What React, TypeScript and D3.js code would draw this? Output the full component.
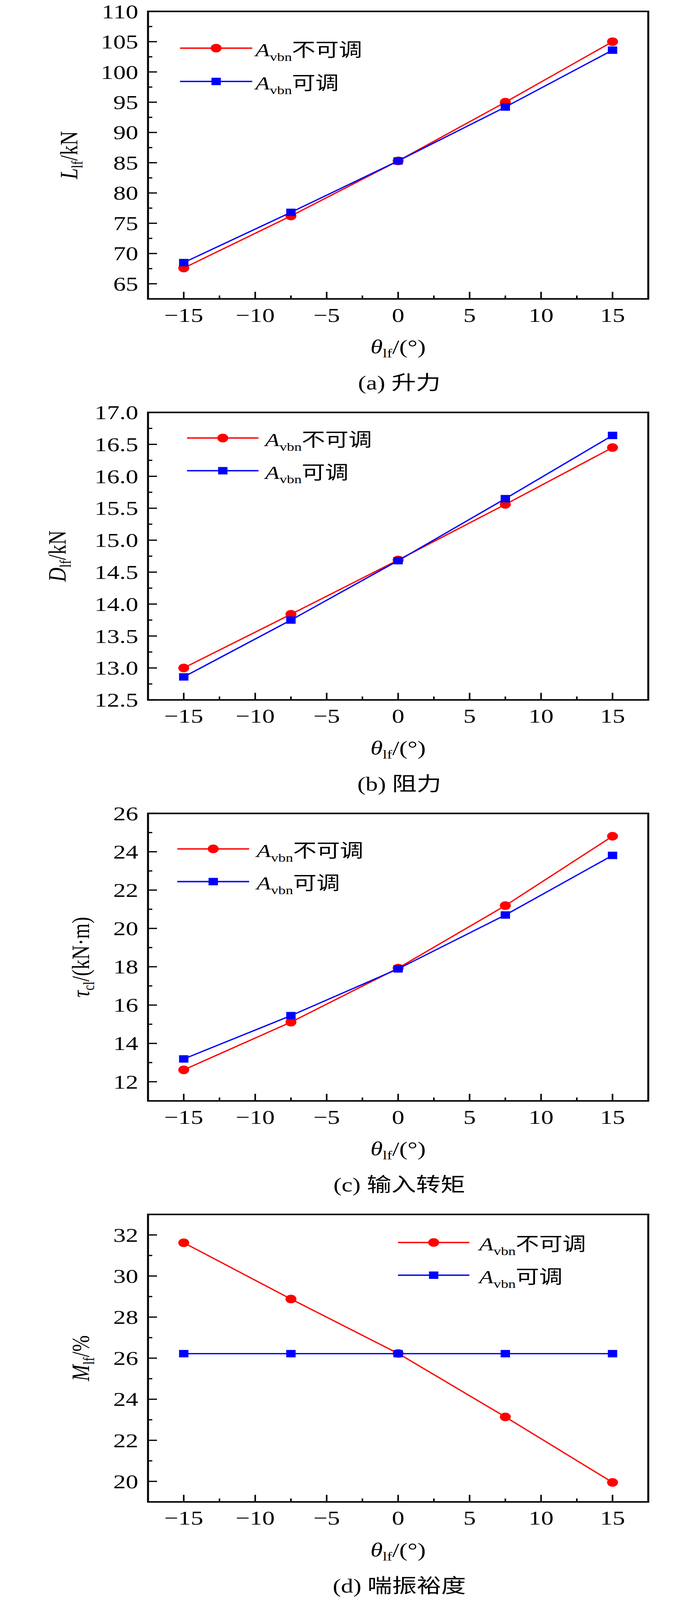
import { scaleLinear, line, range } from "d3";

// lift-fan pitch angle, shared by all four panels
const thetaLf = [-15, -7.5, 0, 7.5, 15];
const xTicks = [-15, -10, -5, 0, 5, 10, 15];

// (a) lift
const liftFixed = [67.6, 76.2, 85.3, 95.0, 105.0];
const liftAdjustable = [68.5, 76.8, 85.3, 94.2, 103.6];
const liftTicks = [65, 70, 75, 80, 85, 90, 95, 100, 105, 110];

// (b) drag
const dragFixed = [13.0, 13.84, 14.69, 15.56, 16.45];
const dragAdjustable = [12.86, 13.75, 14.68, 15.65, 16.64];
const dragTicks = [12.5, 13.0, 13.5, 14.0, 14.5, 15.0, 15.5, 16.0, 16.5, 17.0];

// (c) input torque
const torqueFixed = [12.62, 15.11, 17.93, 21.19, 24.81];
const torqueAdjustable = [13.19, 15.45, 17.89, 20.7, 23.81];
const torqueTicks = [12, 14, 16, 18, 20, 22, 24, 26];

// (d) surge margin
const marginFixed = [31.62, 28.88, 26.23, 23.14, 19.95];
const marginAdjustable = [26.22, 26.22, 26.22, 26.22, 26.22];
const marginTicks = [20, 22, 24, 26, 28, 30, 32];

const seriesNames = ["不可调", "可调"];
const captions = ["(a) 升力", "(b) 阻力", "(c) 输入转矩", "(d) 喘振裕度"];

// drawing coordinates follow the 1772x5187 reference; the browser viewport
// is only 4096 tall, so the svg is squeezed into it through the viewBox
const W = 1772;
const H = 5187;
const VIEW_H = 4096;
const panelH = 1300;
const left = 379;
const right = 1660;
const top = 37;
const bottom = 969;
const serif = "'Liberation Serif', 'Times New Roman', 'Noto Sans CJK SC', serif";
const RED = "#ff0000";
const BLUE = "#0000ff";

const panels = [
  {
    fixed: liftFixed, adj: liftAdjustable, ticks: liftTicks, domain: [62.5, 110], minor: 2.5, dec: 0,
    sym: "L", sub: "lf", unit: "/kN", labelX: 198,
    legend: { x1: 461, x2: 646, y: 156, gap: 108, tx: 654 },
  },
  {
    fixed: dragFixed, adj: dragAdjustable, ticks: dragTicks, domain: [12.5, 17.0], minor: 0.25, dec: 1,
    sym: "D", sub: "lf", unit: "/kN", labelX: 168,
    legend: { x1: 479, x2: 662, y: 120, gap: 106, tx: 679 },
  },
  {
    fixed: torqueFixed, adj: torqueAdjustable, ticks: torqueTicks, domain: [11, 26], minor: 1, dec: 0,
    sym: "τ", sub: "cl", unit: "/(kN·m)", labelX: 228,
    legend: { x1: 454, x2: 638, y: 152, gap: 106, tx: 657 },
  },
  {
    fixed: marginFixed, adj: marginAdjustable, ticks: marginTicks, domain: [19, 33], minor: 1, dec: 0,
    sym: "M", sub: "lf", unit: "/%", labelX: 228,
    legend: { x1: 1019, x2: 1202, y: 128, gap: 106, tx: 1227 },
  },
];

const x = scaleLinear().domain([-17.5, 17.5]).range([left, right]);
const xMinor = range(-17.5, 17.6, 2.5).filter((v) => v > -17.5 && v < 17.5);

function Legend({ lg }: { lg: any }) {
  const mid = (lg.x1 + lg.x2) / 2;
  return (
    <g>
      {[0, 1].map((i) => {
        const y = lg.y + i * lg.gap;
        const c = i === 0 ? RED : BLUE;
        return (
          <g key={i}>
            <line x1={lg.x1} x2={lg.x2} y1={y} y2={y} stroke={c} strokeWidth={4.5} />
            {i === 0 ? (
              <circle cx={mid} cy={y} r={14} fill={c} />
            ) : (
              <rect x={mid - 12} y={y - 12} width={24} height={24} fill={c} />
            )}
            <text x={lg.tx} y={y + 26} fontFamily={serif} fontSize={60}>
              <tspan fontStyle="italic">A</tspan>
              <tspan fontSize={38} dy={15}>vbn</tspan>
              <tspan dy={-15} fontFamily="'Noto Sans CJK SC'" fontSize={60}>{seriesNames[i]}</tspan>
            </text>
          </g>
        );
      })}
    </g>
  );
}

function Panel({ p, idx }: { p: any; idx: number }) {
  const y = scaleLinear().domain(p.domain).range([bottom, top]);
  const yMinor = range(p.domain[0], p.domain[1] + 1e-9, p.minor).filter(
    (v: number) => !p.ticks.some((t: number) => Math.abs(t - v) < 1e-9) && v > p.domain[0] && v < p.domain[1]
  );
  const path = line<number>()
    .x((_, i) => x(thetaLf[i]))
    .y((d) => y(d));
  const cy = (top + bottom) / 2;
  return (
    <g transform={`translate(0,${idx * panelH})`}>
      {/* ticks, pointing inward */}
      {xTicks.map((t) => (
        <line key={"xt" + t} x1={x(t)} x2={x(t)} y1={bottom} y2={bottom - 23} stroke="#000" strokeWidth={4} />
      ))}
      {xMinor.filter((v) => !xTicks.includes(v)).map((t) => (
        <line key={"xm" + t} x1={x(t)} x2={x(t)} y1={bottom} y2={bottom - 11} stroke="#000" strokeWidth={4} />
      ))}
      {p.ticks.map((t: number) => (
        <line key={"yt" + t} x1={left} x2={left + 23} y1={y(t)} y2={y(t)} stroke="#000" strokeWidth={4} />
      ))}
      {yMinor.map((t: number) => (
        <line key={"ym" + t} x1={left} x2={left + 11} y1={y(t)} y2={y(t)} stroke="#000" strokeWidth={4} />
      ))}
      <rect x={left} y={top} width={right - left} height={bottom - top} fill="none" stroke="#000" strokeWidth={5} />

      {/* tick labels */}
      {xTicks.map((t) => (
        <text key={"xl" + t} x={x(t)} y={1043} textAnchor="middle" fontFamily={serif} fontSize={64}>
          {t < 0 ? "\u2212" + Math.abs(t) : t}
        </text>
      ))}
      {p.ticks.map((t: number) => (
        <text key={"yl" + t} x={354} y={y(t) + 22} textAnchor="end" fontFamily={serif} fontSize={64}>
          {t.toFixed(p.dec)}
        </text>
      ))}

      {/* axis titles */}
      <text x={(left + right) / 2} y={1146} textAnchor="middle" fontFamily={serif} fontSize={64}>
        <tspan fontStyle="italic">θ</tspan>
        <tspan fontSize={40} dy={13}>lf</tspan>
        <tspan dy={-13}>/(°)</tspan>
      </text>
      <text transform={`translate(${p.labelX},${cy}) rotate(-90)`} textAnchor="middle" fontFamily={serif} fontSize={64}>
        <tspan fontStyle="italic">{p.sym}</tspan>
        <tspan fontSize={40} dy={13}>{p.sub}</tspan>
        <tspan dy={-13}>{p.unit}</tspan>
      </text>
      <text x={(left + right) / 2 + 3} y={1263} textAnchor="middle" fontFamily={serif} fontSize={63}>
        {captions[idx]}
      </text>

      {/* series: fixed (red circles) then adjustable (blue squares) */}
      <path d={path(p.fixed) ?? ""} fill="none" stroke={RED} strokeWidth={4} />
      {p.fixed.map((d: number, i: number) => (
        <circle key={"c" + i} cx={x(thetaLf[i])} cy={y(d)} r={14} fill={RED} />
      ))}
      <path d={path(p.adj) ?? ""} fill="none" stroke={BLUE} strokeWidth={4} />
      {p.adj.map((d: number, i: number) => (
        <rect key={"s" + i} x={x(thetaLf[i]) - 12} y={y(d) - 12} width={24} height={24} fill={BLUE} />
      ))}

      <Legend lg={p.legend} />
    </g>
  );
}

export default function App() {
  return (
    <svg
      width={W}
      height={VIEW_H}
      viewBox={`0 0 ${W} ${H}`}
      preserveAspectRatio="none"
      style={{ display: "block", margin: "-8px -8px -8px -8px", background: "#fff" }}
    >
      <rect width={W} height={H} fill="#fff" />
      {panels.map((p, i) => (
        <Panel key={i} p={p} idx={i} />
      ))}
    </svg>
  );
}
